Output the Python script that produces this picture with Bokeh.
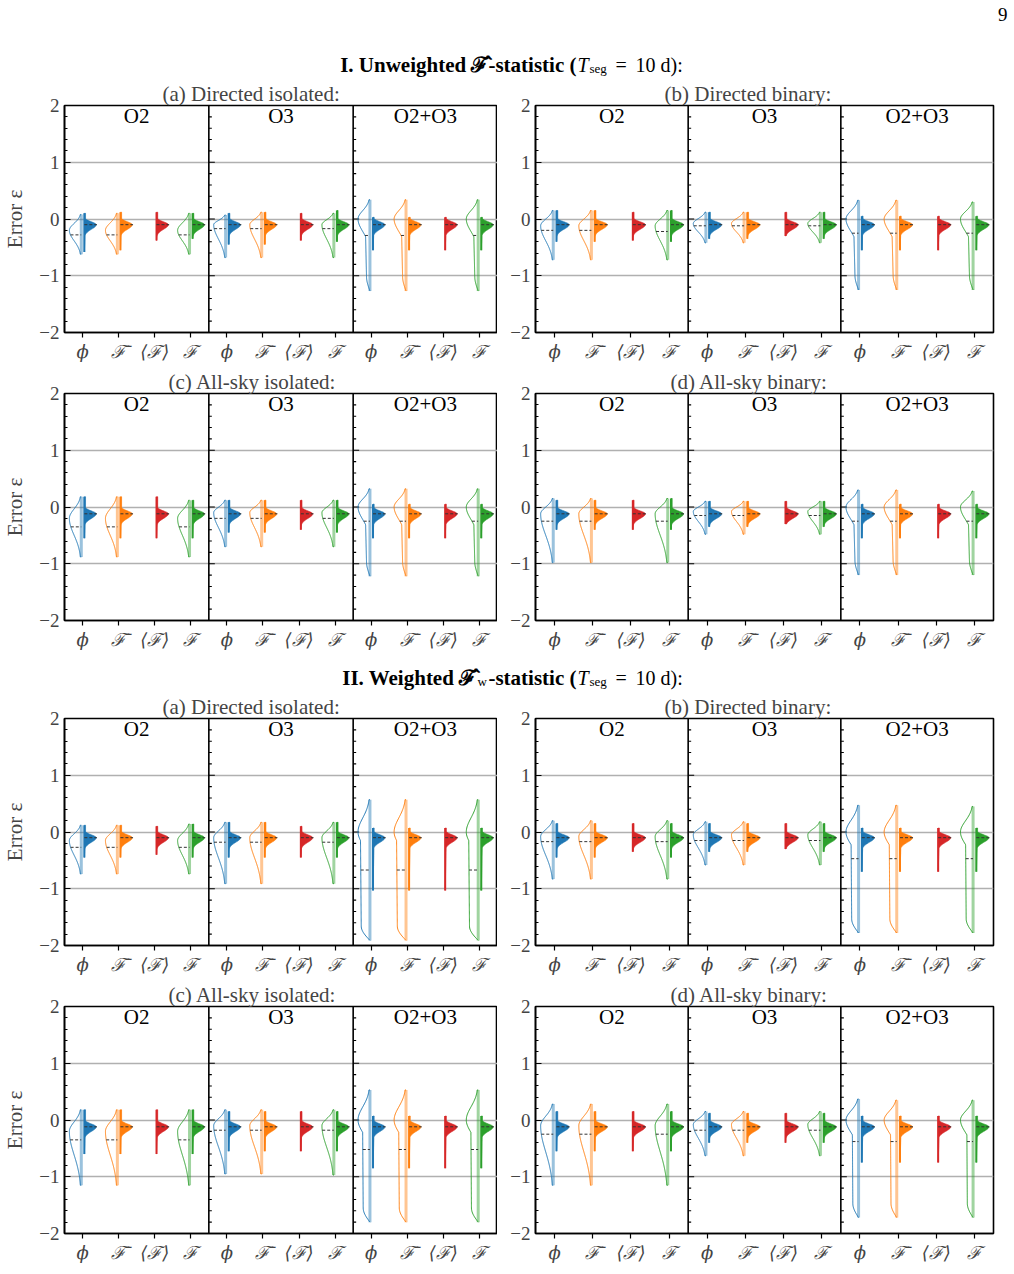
import numpy as np
from bokeh.plotting import figure
from bokeh.layouts import column, row
from bokeh.models import Range1d, FixedTicker, Span
from bokeh.core.properties import value
from bokeh.embed import file_html
from bokeh.resources import INLINE

N = None
CATEGORIES = ["ϕ", "ℱ̄", "⟨ℱ⟩", "ℱ"]
PANELS = ["O2", "O3", "O2+O3"]
COLORS = ["#1f77b4", "#ff7f0e", "#d62728", "#2ca02c"]
Y_TICKS = [-2, -1, 0, 1, 2]
Y_TICK_LABELS = ["−2", "−1", "0", "1", "2"]
GRID_LEVELS = [-1, 0, 1]
GROUP_KEYS = ["Ia", "Ib", "Ic", "Id", "IIa", "IIb", "IIc", "IId"]
SUBTITLES = {
    "Ia": "(a) Directed isolated:", "Ib": "(b) Directed binary:",
    "Ic": "(c) All-sky isolated:", "Id": "(d) All-sky binary:",
    "IIa": "(a) Directed isolated:", "IIb": "(b) Directed binary:",
    "IIc": "(c) All-sky isolated:", "IId": "(d) All-sky binary:",
}

# values per group: O2[phi, Fbar, <F>, F], O3[...], O2+O3[...]
# left half (outline) : range, median, mode
L_HI = {
    "Ia": [0.08, 0.10, N, 0.10, 0.07, 0.12, N, 0.10, 0.34, 0.34, N, 0.34],
    "Ib": [0.15, 0.15, N, 0.15, 0.12, 0.12, N, 0.12, 0.33, 0.33, N, 0.30],
    "Ic": [0.18, 0.18, N, 0.12, 0.12, 0.12, N, 0.12, 0.32, 0.32, N, 0.32],
    "Id": [0.15, 0.15, N, 0.15, 0.10, 0.10, N, 0.10, 0.30, 0.30, N, 0.28],
    "IIa": [0.12, 0.12, N, 0.14, 0.17, 0.17, N, 0.17, 0.57, 0.57, N, 0.57],
    "IIb": [0.20, 0.20, N, 0.20, 0.18, 0.18, N, 0.18, 0.47, 0.47, N, 0.45],
    "IIc": [0.18, 0.18, N, 0.18, 0.18, 0.18, N, 0.18, 0.53, 0.53, N, 0.53],
    "IId": [0.28, 0.28, N, 0.28, 0.15, 0.15, N, 0.15, 0.37, 0.35, N, 0.35],
}
L_LO = {
    "Ia": [-0.62, -0.62, N, -0.62, -0.68, -0.68, N, -0.68, -1.27, -1.27, N, -1.27],
    "Ib": [-0.72, -0.72, N, -0.72, -0.42, -0.42, N, -0.42, -1.25, -1.25, N, -1.25],
    "Ic": [-0.88, -0.88, N, -0.88, -0.70, -0.70, N, -0.70, -1.22, -1.22, N, -1.22],
    "Id": [-0.98, -0.98, N, -0.98, -0.48, -0.48, N, -0.48, -1.20, -1.20, N, -1.20],
    "IIa": [-0.74, -0.74, N, -0.74, -0.91, -0.91, N, -0.91, -1.91, -1.91, N, -1.91],
    "IIb": [-0.83, -0.83, N, -0.83, -0.58, -0.58, N, -0.58, -1.78, -1.78, N, -1.78],
    "IIc": [-1.15, -1.15, N, -1.15, -0.95, -0.95, N, -0.97, -1.80, -1.80, N, -1.80],
    "IId": [-1.15, -1.15, N, -1.15, -0.63, -0.63, N, -0.63, -1.72, -1.72, N, -1.72],
}
L_MED = {
    "Ia": [-0.28, -0.28, N, -0.28, -0.17, -0.17, N, -0.17, -0.29, -0.29, N, -0.29],
    "Ib": [-0.20, -0.20, N, -0.22, -0.12, -0.12, N, -0.12, -0.25, -0.25, N, -0.25],
    "Ic": [-0.35, -0.35, N, -0.35, -0.20, -0.20, N, -0.20, -0.25, -0.25, N, -0.25],
    "Id": [-0.25, -0.25, N, -0.25, -0.15, -0.15, N, -0.15, -0.25, -0.25, N, -0.25],
    "IIa": [-0.27, -0.27, N, -0.27, -0.18, -0.18, N, -0.18, -0.67, -0.67, N, -0.67],
    "IIb": [-0.17, -0.17, N, -0.17, -0.15, -0.15, N, -0.15, -0.47, -0.47, N, -0.47],
    "IIc": [-0.35, -0.35, N, -0.35, -0.18, -0.18, N, -0.18, -0.52, -0.52, N, -0.52],
    "IId": [-0.25, -0.25, N, -0.25, -0.18, -0.18, N, -0.18, -0.38, -0.38, N, -0.38],
}
L_MODE = {
    "Ia": [-0.20, -0.20, N, -0.20, -0.10, -0.10, N, -0.10, 0.00, 0.00, N, 0.00],
    "Ib": [-0.12, -0.12, N, -0.12, -0.08, -0.08, N, -0.08, 0.00, 0.00, N, 0.00],
    "Ic": [-0.20, -0.20, N, -0.20, -0.10, -0.10, N, -0.10, 0.00, 0.00, N, 0.00],
    "Id": [-0.12, -0.12, N, -0.12, -0.08, -0.08, N, -0.08, 0.00, 0.00, N, 0.00],
    "IIa": [-0.15, -0.15, N, -0.15, -0.10, -0.10, N, -0.10, 0.00, 0.00, N, 0.00],
    "IIb": [-0.08, -0.08, N, -0.08, -0.05, -0.05, N, -0.05, 0.00, 0.00, N, 0.00],
    "IIc": [-0.20, -0.20, N, -0.20, -0.10, -0.10, N, -0.10, 0.00, 0.00, N, 0.00],
    "IId": [-0.10, -0.10, N, -0.10, -0.08, -0.08, N, -0.08, 0.00, 0.00, N, 0.00],
}
# relative width of the long lower body of the outline half, per panel (O2, O3, O2+O3)
L_FLAT = {
    "Ia": [0.2, 0.2, 0.4], "Ib": [0.2, 0.2, 0.4], "Ic": [0.2, 0.2, 0.4], "Id": [0.2, 0.2, 0.4],
    "IIa": [0.2, 0.2, 0.8], "IIb": [0.2, 0.2, 0.6], "IIc": [0.2, 0.2, 0.62], "IId": [0.2, 0.2, 0.5],
}
# right half (filled)
R_HI = {
    "Ia": [0.10, 0.12, 0.12, 0.10, 0.10, 0.12, 0.10, 0.15, 0.03, 0.03, 0.03, 0.03],
    "Ib": [0.15, 0.15, 0.12, 0.15, 0.12, 0.12, 0.12, 0.12, 0.05, 0.05, 0.05, 0.05],
    "Ic": [0.18, 0.18, 0.18, 0.12, 0.12, 0.12, 0.12, 0.12, 0.05, 0.05, 0.05, 0.05],
    "Id": [0.12, 0.12, 0.12, 0.15, 0.10, 0.10, 0.10, 0.10, 0.05, 0.05, 0.05, 0.05],
    "IIa": [0.12, 0.12, 0.10, 0.14, 0.17, 0.17, 0.10, 0.17, 0.07, 0.07, 0.07, 0.07],
    "IIb": [0.15, 0.15, 0.15, 0.15, 0.15, 0.15, 0.15, 0.15, 0.07, 0.07, 0.07, 0.07],
    "IIc": [0.18, 0.18, 0.18, 0.18, 0.15, 0.15, 0.15, 0.15, 0.07, 0.07, 0.07, 0.07],
    "IId": [0.15, 0.15, 0.15, 0.15, 0.12, 0.12, 0.12, 0.12, 0.07, 0.07, 0.07, 0.07],
}
R_LO = {
    "Ia": [-0.58, -0.55, -0.38, -0.35, -0.45, -0.45, -0.38, -0.40, -0.55, -0.55, -0.55, -0.55],
    "Ib": [-0.40, -0.40, -0.38, -0.40, -0.35, -0.35, -0.30, -0.35, -0.55, -0.55, -0.55, -0.55],
    "Ic": [-0.55, -0.55, -0.55, -0.55, -0.45, -0.45, -0.40, -0.45, -0.55, -0.55, -0.55, -0.55],
    "Id": [-0.40, -0.40, -0.40, -0.40, -0.35, -0.35, -0.30, -0.35, -0.55, -0.55, -0.55, -0.55],
    "IIa": [-0.45, -0.45, -0.40, -0.45, -0.45, -0.45, -0.45, -0.45, -1.03, -1.03, -1.03, -1.03],
    "IIb": [-0.45, -0.45, -0.35, -0.45, -0.35, -0.35, -0.30, -0.35, -0.70, -0.70, -0.70, -0.70],
    "IIc": [-0.60, -0.60, -0.60, -0.60, -0.55, -0.55, -0.55, -0.55, -0.85, -0.85, -0.85, -0.85],
    "IId": [-0.55, -0.55, -0.55, -0.55, -0.40, -0.40, -0.40, -0.40, -0.75, -0.75, -0.75, -0.75],
}
R_MED = {
    "Ia": [-0.10] * 12, "Ib": [-0.10] * 12, "Ic": [-0.12] * 12, "Id": [-0.12] * 12,
    "IIa": [-0.10] * 12, "IIb": [-0.10] * 12, "IIc": [-0.12] * 12, "IId": [-0.12] * 12,
}

SERIF = "Liberation Serif"
HALF_W = 0.33
DL, DR = 0.035, 0.05
# where each subtitle starts, measured from the left edge of its frame (px)
SUB_OFFSET = {"Ia": 98, "Ib": 129, "Ic": 104, "Id": 135,
              "IIa": 98, "IIb": 129, "IIc": 104, "IId": 135}


def left_profile(y, lo, hi, mode, flat):
    s_up = max(hi - mode, 0.03) / 2.3
    s_dn = max(mode - lo, 0.03) / 2.3 if flat < 0.3 else 0.22
    s = np.where(y > mode, s_up, s_dn)
    g = np.exp(-0.5 * ((y - mode) / s) ** 2)
    taper = np.sin(np.pi / 2 * np.clip((y - lo) / 0.25, 0, 1))
    frac = np.clip((mode - y) / max(mode - lo, 1e-3), 0, 1)
    slope = 0.35 if flat < 0.5 else 0.1
    pl = np.where(y > mode, 0.0, flat * taper * (1 - slope * frac))
    return np.maximum(g, pl)


def right_profile(y, lo, hi, mode):
    s = np.where(y > mode, 0.05, 0.08)
    g = np.exp(-0.5 * ((y - mode) / s) ** 2)
    t = np.clip((y - lo) / max(mode - lo, 1e-3), 0, 1)
    return np.maximum(g, 0.1 * t)


def group_figure(key, left_col, top_border):
    frame_w = 433 if left_col else 458
    bl = 64 if left_col else 38
    br = 0 if left_col else 21
    ppu = frame_w / 12.0
    p = figure(width=bl + frame_w + br, height=top_border + 227 + 32,
               x_range=Range1d(0, 12), y_range=Range1d(-2, 2),
               output_backend="svg", toolbar_location=None,
               min_border_left=bl, min_border_right=br,
               min_border_top=top_border, min_border_bottom=32,
               background_fill_color="white", border_fill_color="white")
    p.title.text = SUBTITLES[key]
    p.title.align = "left"
    p.title.offset = SUB_OFFSET[key]
    p.title.text_font = SERIF
    p.title.text_font_size = "21px"
    p.title.text_font_style = "normal"
    p.title.standoff = 0
    p.outline_line_color = "black"
    p.outline_line_width = 1.6
    p.outline_line_alpha = 1

    minor = [round(v, 1) for v in np.arange(-2, 2.01, 0.2) if abs(v - round(v)) > 1e-6]
    yax = p.yaxis[0]
    yax.ticker = FixedTicker(ticks=Y_TICKS, minor_ticks=minor)
    yax.major_label_overrides = {t: l for t, l in zip(Y_TICKS, Y_TICK_LABELS)}
    yax.major_tick_in = 6
    yax.major_tick_out = 0
    yax.minor_tick_in = 3
    yax.minor_tick_out = 0
    yax.major_tick_line_width = 1.2
    yax.minor_tick_line_width = 1.0
    yax.axis_line_width = 1.6
    yax.major_label_text_font = SERIF
    yax.major_label_text_font_size = "19px"
    yax.major_label_standoff = 5
    if left_col:
        yax.axis_label = "Error ε"
        yax.axis_label_text_font = SERIF
        yax.axis_label_text_font_size = "21px"
        yax.axis_label_text_font_style = "normal"
        yax.axis_label_standoff = 9

    xticks = [0.5 + i for i in range(12)]
    xax = p.xaxis[0]
    xax.ticker = FixedTicker(ticks=xticks, minor_ticks=[])
    xax.major_label_overrides = {t: CATEGORIES[i % 4] for i, t in enumerate(xticks)}
    xax.major_tick_in = 0
    xax.major_tick_out = 5
    xax.major_tick_line_width = 1.2
    xax.axis_line_width = 1.6
    xax.major_label_text_font = "DejaVu Serif"
    xax.major_label_text_font_style = "italic"
    xax.major_label_text_font_size = "18px"
    xax.major_label_standoff = 3

    p.xgrid.visible = False
    p.ygrid.ticker = FixedTicker(ticks=GRID_LEVELS)
    p.ygrid.grid_line_color = "#b0b0b0"
    p.ygrid.grid_line_width = 1.6

    for d in (4, 8):
        p.add_layout(Span(location=d, dimension="height", line_color="black", line_width=1.6))
    tx0, tx1, ty = [], [], []
    for d in (4, 8):
        for t in Y_TICKS:
            tx0.append(d); tx1.append(d + 6 / ppu); ty.append(t)
        for t in minor:
            tx0.append(d); tx1.append(d + 3 / ppu); ty.append(t)
    p.segment(x0=tx0, y0=ty, x1=tx1, y1=ty, line_color="black", line_width=1.1)

    p.text(x=[2, 6, 10], y=[1.81] * 3, text=PANELS, text_align="center",
           text_baseline="middle", text_font=value(SERIF), text_font_size="21px",
           text_color="black")

    lo_xs, lo_ys, lo_c = [], [], []
    bar_xs, bar_ys, bar_c = [], [], []
    pat_xs, pat_ys, pat_c = [], [], []
    dbar_xs, dbar_ys, dbar_c = [], [], []
    med_xs, med_ys = [], []
    for i in range(12):
        panel, cat = divmod(i, 4)
        c = i + 0.5
        col = COLORS[cat]
        if L_HI[key][i] is not None:
            lo, hi, md, mo = L_LO[key][i], L_HI[key][i], L_MED[key][i], L_MODE[key][i]
            fl = L_FLAT[key][panel]
            y = np.linspace(hi, lo, 160)
            w = left_profile(y, lo, hi, mo, fl)
            xs = list(c - DL - HALF_W * w)
            lo_xs.append([c - DL] + xs + [c - DL]); lo_ys.append([hi] + list(y) + [lo]); lo_c.append(col)
            bar_xs.append([c - DL, c - DL]); bar_ys.append([lo, hi]); bar_c.append(col)
            wm = float(left_profile(np.array([md]), lo, hi, mo, fl)[0])
            med_xs.append([c - DL - HALF_W * wm, c - DL]); med_ys.append([md, md])
        lo, hi, md = R_LO[key][i], R_HI[key][i], R_MED[key][i]
        y = np.linspace(hi, lo, 160)
        w = right_profile(y, lo, hi, md)
        pat_xs.append([c + DR] + list(c + DR + HALF_W * w) + [c + DR])
        pat_ys.append([hi] + list(y) + [lo]); pat_c.append(col)
        dbar_xs.append([c + DR, c + DR]); dbar_ys.append([lo, hi]); dbar_c.append(col)
        wm = float(right_profile(np.array([md]), lo, hi, md)[0])
        med_xs.append([c + DR, c + DR + HALF_W * wm + 0.02]); med_ys.append([md, md])

    p.multi_line(xs=bar_xs, ys=bar_ys, line_color=bar_c, line_width=3, line_alpha=0.45)
    p.multi_line(xs=lo_xs, ys=lo_ys, line_color=lo_c, line_width=1.0)
    p.patches(xs=pat_xs, ys=pat_ys, fill_color=pat_c, line_color=pat_c, line_width=0.6)
    p.multi_line(xs=dbar_xs, ys=dbar_ys, line_color=dbar_c, line_width=2)
    p.multi_line(xs=med_xs, ys=med_ys, line_color="#333333", line_width=1.0, line_dash="3 2")
    return p


def header_figure(height, pieces, yc, with_page=False):
    p = figure(width=1014, height=height, x_range=Range1d(0, 1014), y_range=Range1d(height, 0),
               output_backend="svg", toolbar_location=None, x_axis_type=None, y_axis_type=None,
               min_border=0, min_border_left=0, min_border_right=0, min_border_top=0,
               min_border_bottom=0, outline_line_color=None)
    p.grid.visible = False
    for t, st, sz, x, align, dy in pieces:
        p.text(x=[x], y=[yc + dy], text=[t], text_align=align, text_baseline="middle",
               text_font=value(SERIF), text_font_size=f"{sz}px", text_font_style=st,
               text_color="black")
    if with_page:
        p.text(x=[1007], y=[14], text=["9"], text_align="right", text_baseline="middle",
               text_font=value(SERIF), text_font_size="19px", text_color="black")
    return p


XT = 588  # right edge of the "T" in the section titles
TITLE_I = [("I. Unweighted ℱ̂-statistic (", "bold", 21, XT - 12, "right", 0),
           ("T", "italic", 20, XT, "right", 0),
           ("seg", "normal", 13, XT + 1, "left", 4),
           ("=", "normal", 20, XT + 27, "left", 0),
           ("10 d):", "normal", 20, XT + 47, "left", 0)]
TITLE_II = [("II. Weighted ℱ̂", "bold", 21, XT - 112, "right", 0),
            ("w", "normal", 13, XT - 111, "left", 4),
            ("-statistic (", "bold", 21, XT - 12, "right", 0),
            ("T", "italic", 20, XT, "right", 0),
            ("seg", "normal", 13, XT + 1, "left", 4),
            ("=", "normal", 20, XT + 27, "left", 0),
            ("10 d):", "normal", 20, XT + 47, "left", 0)]

h1 = header_figure(78, TITLE_I, 64, with_page=True)
h2 = header_figure(39, TITLE_II, 25)
r1 = row(group_figure("Ia", True, 27), group_figure("Ib", False, 27), spacing=0)
r2 = row(group_figure("Ic", True, 29), group_figure("Id", False, 29), spacing=0)
r3 = row(group_figure("IIa", True, 27), group_figure("IIb", False, 27), spacing=0)
r4 = row(group_figure("IIc", True, 29), group_figure("IId", False, 29), spacing=0)
layout = column(h1, r1, r2, h2, r3, r4, spacing=0)

open("out.html", "w").write(file_html(layout, INLINE))
